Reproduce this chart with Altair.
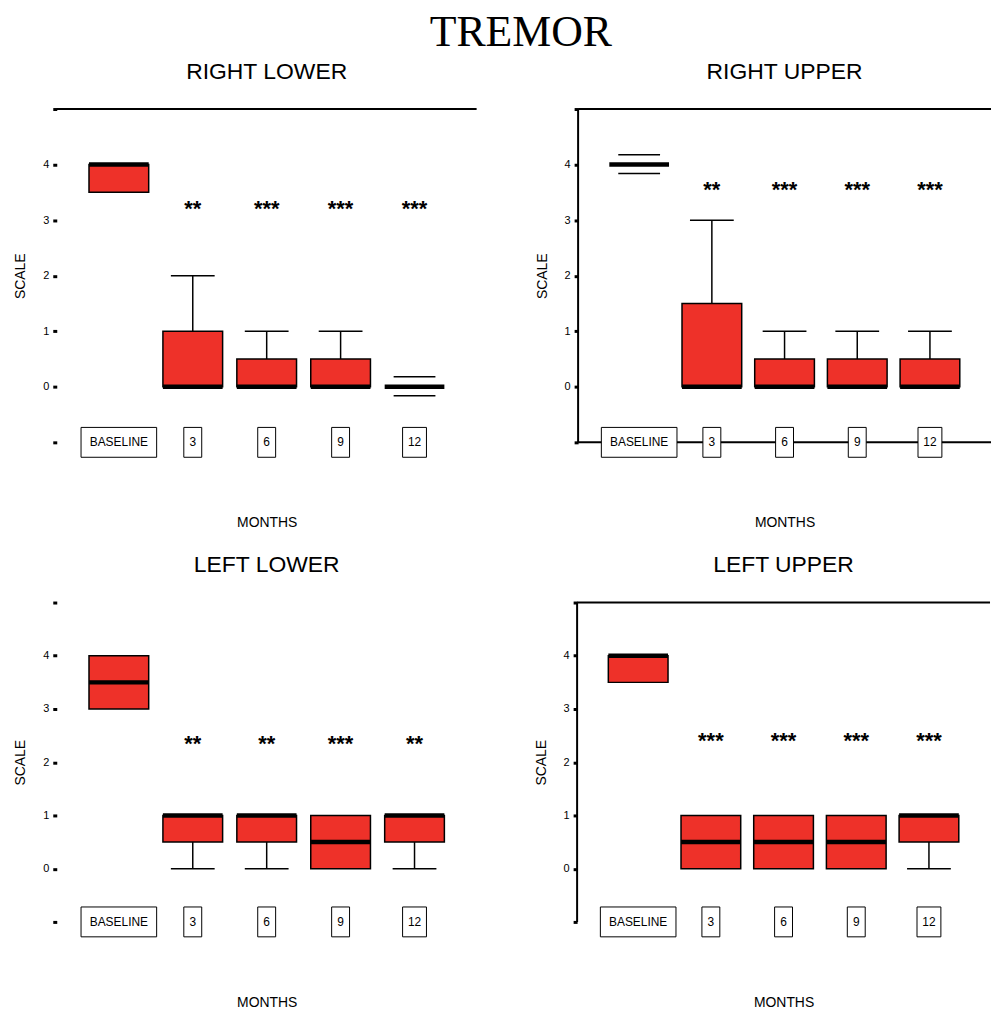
import altair as alt
import pandas as pd

categories = ["BASELINE", "3", "6", "9", "12"]
y_ticks = [-1, 0, 1, 2, 3, 4, 5]

# RIGHT LOWER
rl_q1 = [3.5, 0, 0, 0, 0]
rl_q3 = [4, 1, 0.5, 0.5, 0]
rl_med = [4, 0, 0, 0, 0]
rl_lo = [3.5, 0, 0, 0, 0]
rl_hi = [4, 2, 1, 1, 0]
rl_sig = ["", "**", "***", "***", "***"]
rl_sig_y = 3.25

# RIGHT UPPER
ru_q1 = [4, 0, 0, 0, 0]
ru_q3 = [4, 1.5, 0.5, 0.5, 0.5]
ru_med = [4, 0, 0, 0, 0]
ru_lo = [4, 0, 0, 0, 0]
ru_hi = [4, 3, 1, 1, 1]
ru_sig = ["", "**", "***", "***", "***"]
ru_sig_y = 3.6

# LEFT LOWER
ll_q1 = [3, 0.5, 0.5, 0, 0.5]
ll_q3 = [4, 1, 1, 1, 1]
ll_med = [3.5, 1, 1, 0.5, 1]
ll_lo = [3, 0, 0, 0, 0]
ll_hi = [4, 1, 1, 1, 1]
ll_sig = ["", "**", "**", "***", "**"]
ll_sig_y = 2.4

# LEFT UPPER
lu_q1 = [3.5, 0, 0, 0, 0.5]
lu_q3 = [4, 1, 1, 1, 1]
lu_med = [4, 0.5, 0.5, 0.5, 1]
lu_lo = [3.5, 0, 0, 0, 0]
lu_hi = [4, 1, 1, 1, 1]
lu_sig = ["", "***", "***", "***", "***"]
lu_sig_y = 2.45

RED = "#ee3129"
FONT = "Liberation Sans"


def panel(title, q1, q3, med, lo, hi, sig, sig_y, sides, w, h, title_offset):
    df = pd.DataFrame(dict(cat=categories, q1=q1, q3=q3, med=med, lo=lo, hi=hi, sig=sig))
    df["sig_y"] = sig_y
    base = alt.Chart(df)
    xs = alt.Scale(domain=categories, paddingInner=0.2, paddingOuter=0.44)
    ys = alt.Scale(domain=[-1, 5], nice=False, zero=False)
    xa = alt.X(
        "cat:N", scale=xs, sort=categories,
        axis=alt.Axis(labels=False, ticks=False, domain=False, title="MONTHS",
                      titlePadding=74, titleFontSize=14, titleFont=FONT,
                      titleFontWeight="normal", titleColor="black"),
    )
    y_axis = alt.Axis(
        values=y_ticks, format="d",
        labelExpr="(datum.value < 0 || datum.value > 4) ? '' : datum.label",
        grid=False, domain=False, tickSize=4, tickWidth=3, tickColor="black",
        labelFontSize=11, labelFont=FONT, labelColor="black", labelPadding=4,
        title="SCALE", titleFontSize=14, titleFont=FONT, titleFontWeight="normal",
        titleColor="black", titlePadding=15,
    )
    ya = lambda f: alt.Y(f, scale=ys, axis=y_axis)

    box = base.transform_filter("datum.q3 > datum.q1").mark_bar(
        size=60, fill=RED, stroke="black", strokeWidth=1.5
    ).encode(x=xa, y=ya("q1:Q"), y2="q3:Q")

    stem_hi = base.transform_filter("datum.hi > datum.q3").mark_rule(
        color="black", strokeWidth=1.5
    ).encode(x=xa, y=ya("q3:Q"), y2="hi:Q")
    stem_lo = base.transform_filter("datum.lo < datum.q1").mark_rule(
        color="black", strokeWidth=1.5
    ).encode(x=xa, y=ya("lo:Q"), y2="q1:Q")
    cap_hi = base.transform_filter("datum.hi > datum.q3").mark_tick(
        color="black", size=44, thickness=1.5, opacity=1
    ).encode(x=xa, y=ya("hi:Q"))
    cap_lo = base.transform_filter("datum.lo < datum.q1").mark_tick(
        color="black", size=44, thickness=1.5, opacity=1
    ).encode(x=xa, y=ya("lo:Q"))
    median = base.mark_tick(color="black", size=60, thickness=4.5, opacity=1).encode(
        x=xa, y=ya("med:Q")
    )
    flat_top = base.transform_filter("datum.q3 == datum.q1").mark_tick(
        color="black", size=42, thickness=1.5, opacity=1, yOffset=-10
    ).encode(x=xa, y=ya("q3:Q"))
    flat_bot = base.transform_filter("datum.q3 == datum.q1").mark_tick(
        color="black", size=42, thickness=1.5, opacity=1, yOffset=9
    ).encode(x=xa, y=ya("q1:Q"))
    stars = base.mark_text(fontSize=22, fontWeight="bold", font=FONT, color="black",
                           baseline="middle", dy=3).encode(
        x=xa, y=ya("sig_y:Q"), text="sig:N"
    )

    one = base.transform_filter("datum.cat == 'BASELINE'")
    frame = []
    side_enc = {
        "top": dict(x=alt.value(0), x2=alt.value(w), y=alt.value(0)),
        "bottom": dict(x=alt.value(0), x2=alt.value(w), y=alt.value(h)),
        "left": dict(x=alt.value(0), y=alt.value(0), y2=alt.value(h)),
        "right": dict(x=alt.value(w), y=alt.value(0), y2=alt.value(h)),
    }
    for s in sides:
        frame.append(one.mark_rule(color="black", strokeWidth=2).encode(**side_enc[s]))

    lab_box = base.transform_calculate(
        lw="length(datum.cat) > 2 ? 76 : 12 + 6 * length(datum.cat)"
    ).mark_bar(fill="white", stroke="black", strokeWidth=1).encode(
        x=xa, size=alt.Size("lw:Q", scale=None, legend=None),
        y=alt.value(h - 15), y2=alt.value(h + 15),
    )
    lab_txt = base.mark_text(fontSize=12, font=FONT, color="black").encode(
        x=xa, y=alt.value(h), text="cat:N"
    )

    layers = [box] + frame + [stem_hi, stem_lo, cap_hi, cap_lo, median,
                              flat_top, flat_bot, stars, lab_box, lab_txt]
    return alt.layer(*layers).properties(
        width=w, height=h,
        title=alt.TitleParams(title, fontSize=23, font=FONT, fontWeight="normal",
                              color="black", offset=title_offset),
    )


W1, W2 = 422, 415
H1, H2 = 335, 321

rl = panel("RIGHT LOWER", rl_q1, rl_q3, rl_med, rl_lo, rl_hi, rl_sig, rl_sig_y,
           ["top"], W1, H1, 24)
ru = panel("RIGHT UPPER", ru_q1, ru_q3, ru_med, ru_lo, ru_hi, ru_sig, ru_sig_y,
           ["top", "left", "bottom"], W2, H1, 24)
ll = panel("LEFT LOWER", ll_q1, ll_q3, ll_med, ll_lo, ll_hi, ll_sig, ll_sig_y,
           [], W1, H2, 24)
lu = panel("LEFT UPPER", lu_q1, lu_q3, lu_med, lu_lo, lu_hi, lu_sig, lu_sig_y,
           ["top", "left"], W2, H2, 24)

chart = alt.vconcat(
    alt.hconcat(rl, ru, spacing=57),
    alt.hconcat(ll, lu, spacing=57),
    spacing=24,
).properties(
    title=alt.TitleParams("TREMOR", fontSize=44, font="Liberation Serif",
                          fontWeight="normal", color="black", anchor="middle",
                          dx=18, offset=6),
    padding={"left": 5, "top": 0, "right": 0, "bottom": 0},
).configure_view(stroke=None)

chart.save("out.html", embed_options={"renderer": "svg", "actions": False})
